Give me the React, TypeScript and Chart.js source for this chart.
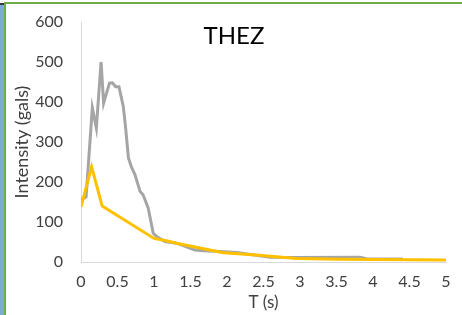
import React, { useEffect, useRef } from "react";
import { Chart, registerables } from "chart.js";

Chart.register(...registerables);

// Gray series (T in s, intensity in gals)
const grayT = [0, 0.07, 0.155, 0.21, 0.275, 0.31, 0.39, 0.43, 0.475, 0.52, 0.58, 0.61, 0.65, 0.69, 0.74, 0.81, 0.85, 0.92, 0.99, 1.04, 1.15, 1.31, 1.56, 1.68, 1.9, 2.13, 2.59, 2.91, 3.82, 3.91, 4.41];
const grayV = [155, 163, 385, 335, 500, 397, 447, 448, 438, 438, 388, 338, 260, 238, 218, 176, 168, 135, 72, 63, 51, 47, 30, 28, 26, 24, 12, 11, 12, 8, 7.5];

// Yellow series
const yellowT = [0, 0.145, 0.29, 1.0, 1.17, 1.31, 1.95, 2.4, 2.95, 3.55, 5.0];
const yellowV = [138, 238, 140, 59, 53, 47, 23, 17.5, 9, 7, 5];

const chartTitle = "THEZ";
const xTitle = "T (s)";
const yTitle = "Intensity (gals)";

const FONT = "Lato, 'Open Sans', sans-serif";

export default function App() {
  const ref = useRef<HTMLCanvasElement | null>(null);
  useEffect(() => {
    if (!ref.current) return;
    const titlePlugin = {
      id: "centerTitle",
      afterDraw(chart: any) {
        const ctx = chart.ctx;
        ctx.save();
        ctx.font = `24px ${FONT}`;
        ctx.fillStyle = "#000000";
        ctx.textAlign = "center";
        ctx.textBaseline = "middle";
        ctx.fillText(chartTitle, 234, 36);
        ctx.restore();
      },
    };
    const chart = new Chart(ref.current, {
      type: "line",
      data: {
        datasets: [
          {
            label: "yellow",
            data: yellowT.map((t, i) => ({ x: t, y: yellowV[i] })),
            borderColor: "#FFC000",
            borderWidth: 3,
            pointRadius: 0,
            tension: 0,
            order: 0,
          },
          {
            label: "gray",
            data: grayT.map((t, i) => ({ x: t, y: grayV[i] })),
            borderColor: "#A5A5A5",
            borderWidth: 3,
            pointRadius: 0,
            tension: 0,
            order: 1,
          },
        ],
      },
      options: {
        animation: false,
        responsive: false,
        maintainAspectRatio: false,
        layout: { padding: { top: 22, right: 16, left: 0, bottom: 0 } },
        plugins: { legend: { display: false }, tooltip: { enabled: false } },
        scales: {
          x: {
            type: "linear",
            min: 0,
            max: 5,
            grid: { display: false, drawTicks: false },
            border: { display: true, color: "#D9D9D9", width: 1 },
            ticks: {
              stepSize: 0.5,
              color: "#404040",
              font: { family: FONT, size: 16 },
              padding: 10,
              maxRotation: 0,
              autoSkip: false,
              callback: (v: any) => String(Number(v)),
            },
            title: {
              display: true,
              text: xTitle,
              color: "#404040",
              font: { family: FONT, size: 17 },
              padding: { top: 0, bottom: 2 },
            },
            afterFit(scale: any) {
              scale.height = 53;
              scale.paddingLeft = 0;
              scale.paddingRight = 0;
            },
          },
          y: {
            type: "linear",
            min: 0,
            max: 600,
            grid: { display: false, drawTicks: false },
            border: { display: true, color: "#D9D9D9", width: 1 },
            ticks: {
              stepSize: 100,
              color: "#404040",
              font: { family: FONT, size: 16 },
              padding: 18,
            },
            title: {
              display: true,
              text: yTitle,
              color: "#404040",
              font: { family: FONT, size: 18 },
              padding: { top: 11, bottom: 0 },
            },
            afterFit(scale: any) {
              scale.width = 81;
              scale.paddingTop = 0;
              scale.paddingBottom = 0;
            },
          },
        },
      },
      plugins: [titlePlugin],
    } as any);
    return () => chart.destroy();
  }, []);

  return (
    <div style={{ position: "fixed", left: 0, top: 0, width: 462, height: 315, background: "#ffffff", overflow: "hidden" }}>
      <canvas ref={ref} width={462} height={315} style={{ position: "absolute", left: 0, top: 0, width: 462, height: 315 }} />
      <div style={{ position: "absolute", left: 0, top: 4, width: 4, height: 311, background: "#7EABD4" }} />
      <div style={{ position: "absolute", left: 0, top: 3, width: 4, height: 2, background: "#3a3a3a" }} />
      <div style={{ position: "absolute", left: 4, top: 2, width: 2, height: 313, background: "#70AD47" }} />
      <div style={{ position: "absolute", left: 4, top: 2, width: 458, height: 2, background: "#70AD47" }} />
    </div>
  );
}
